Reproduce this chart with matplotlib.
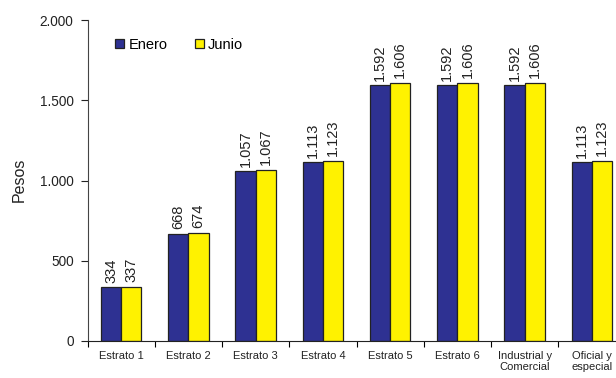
import matplotlib
matplotlib.use("Agg")
import matplotlib.pyplot as plt
import numpy as np
from matplotlib.ticker import FuncFormatter

categories = ["Estrato 1", "Estrato 2", "Estrato 3", "Estrato 4", "Estrato 5",
              "Estrato 6", "Industrial y\nComercial", "Oficial y\nespecial"]
enero = [334, 668, 1057, 1113, 1592, 1592, 1592, 1113]
junio = [337, 674, 1067, 1123, 1606, 1606, 1606, 1123]
series_names = ["Enero", "Junio"]

def miles(v):
    return f"{v:,.0f}".replace(",", ".")

plt.rcParams["font.family"] = ["Liberation Sans", "DejaVu Sans"]

W, H = 616, 378
fig = plt.figure(figsize=(W / 100, H / 100), dpi=100)
# plot area runs slightly past the right edge of the canvas
ax = fig.add_axes([87.5 / W, 37 / H, 538 / W, 321 / H])

x = np.arange(len(categories))
w = 0.3
blue = "#2E3192"
yellow = "#FFF200"
b1 = ax.bar(x - w / 2, enero, w, color=blue, edgecolor="#222222", linewidth=0.9, label=series_names[0])
b2 = ax.bar(x + w / 2, junio, w, color=yellow, edgecolor="#222222", linewidth=0.9, label=series_names[1])

for bars, vals in ((b1, enero), (b2, junio)):
    for r, v in zip(bars, vals):
        ax.text(r.get_x() + r.get_width() / 2, v + 30, miles(v), rotation=90,
                ha="center", va="bottom", fontsize=10.5, color="#222222")

ax.set_xlim(-0.5, len(categories) - 0.5)
ax.set_ylim(0, 2000)
ax.set_yticks([0, 500, 1000, 1500, 2000])
ax.yaxis.set_major_formatter(FuncFormatter(lambda v, p: miles(v)))
ax.tick_params(axis="y", labelsize=9.8, length=5, pad=5, direction="out", colors="#222222")

ax.set_xticks(np.arange(len(categories) + 1) - 0.5)
ax.set_xticklabels([])
ax.set_xticks(x, minor=True)
ax.set_xticklabels(categories, minor=True, fontsize=8, color="#222222")
ax.tick_params(axis="x", which="major", length=4, direction="out")
ax.tick_params(axis="x", which="minor", length=0, pad=7)

for s in ("top", "right"):
    ax.spines[s].set_visible(False)
ax.spines["left"].set_color("#444444")
ax.spines["bottom"].set_color("#222222")

fig.text(19 / W, 1 - 180 / H, "Pesos", rotation=90, ha="center", va="center",
         fontsize=11.5, color="#222222")

ax.legend(loc="center left", bbox_to_anchor=(102 / W, 1 - 45 / H),
          bbox_transform=fig.transFigure, ncol=2, frameon=False,
          fontsize=10.5, handlelength=0.6, handleheight=0.6, handletextpad=0.3,
          columnspacing=1.9)

fig.savefig("out.png", dpi=100)
